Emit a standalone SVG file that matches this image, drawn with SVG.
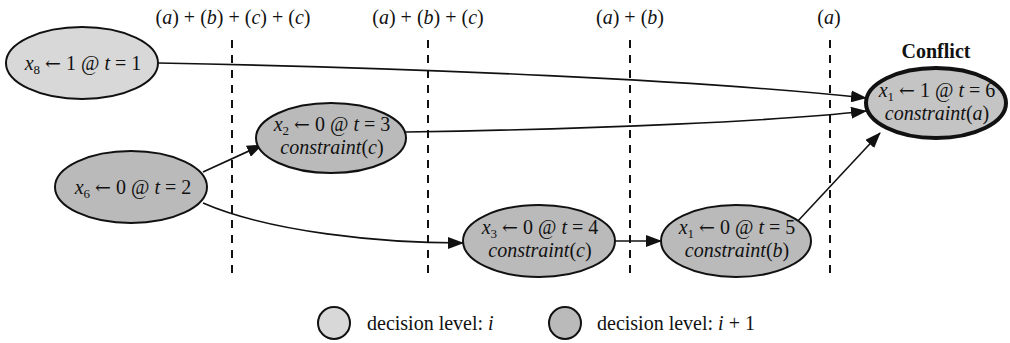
<svg xmlns="http://www.w3.org/2000/svg" width="1010" height="343" viewBox="0 0 1010 343">
<defs>
<style>
text{font-family:"Liberation Serif","Times New Roman",serif;font-size:20px;fill:#111;}
.i{font-style:italic;}
.sub{font-size:13px;}
.ar{font-family:"DejaVu Serif",serif;font-size:19px;}
.light{fill:#d8d8d8;stroke:#111;stroke-width:2;}
.dark{fill:#bababa;stroke:#111;stroke-width:2;}
.conf{fill:#c4c4c4;stroke:#111;stroke-width:4;}
.dash{stroke:#111;stroke-width:2;stroke-dasharray:8,7;fill:none;}
.edge{stroke:#111;stroke-width:1.6;fill:none;marker-end:url(#ah);}
</style>
<marker id="ah" markerWidth="16" markerHeight="12" refX="15" refY="6" orient="auto" markerUnits="userSpaceOnUse">
<path d="M0,0 L16,6 L0,12 Z" fill="#111"/>
</marker>
</defs>
<rect width="1010" height="343" fill="#ffffff"/>

<g id="cuts">
<line class="dash" x1="232" y1="40" x2="232" y2="274"/>
<line class="dash" x1="428" y1="40" x2="428" y2="274"/>
<line class="dash" x1="630" y1="40" x2="630" y2="274"/>
<line class="dash" x1="830" y1="40" x2="830" y2="274"/>
<text x="233" y="24" text-anchor="middle">(<tspan class="i">a</tspan>) + (<tspan class="i">b</tspan>) + (<tspan class="i">c</tspan>) + (<tspan class="i">c</tspan>)</text>
<text x="428" y="24" text-anchor="middle">(<tspan class="i">a</tspan>) + (<tspan class="i">b</tspan>) + (<tspan class="i">c</tspan>)</text>
<text x="630" y="24" text-anchor="middle">(<tspan class="i">a</tspan>) + (<tspan class="i">b</tspan>)</text>
<text x="829" y="24" text-anchor="middle">(<tspan class="i">a</tspan>)</text>
</g>

<g id="connectors">
<path class="edge" d="M158,63 C420,68 700,80 866,98"/>
<path class="edge" d="M406,132 C600,129 780,121 866,111"/>
<path class="edge" d="M203,172 L262,145"/>
<path class="edge" d="M203,203 C270,232 380,243 463,243"/>
<path class="edge" d="M615,241 L661,241"/>
<path class="edge" d="M797,222 L880,133"/>
</g>

<g id="n_x8">
<ellipse class="light" cx="82" cy="63" rx="76" ry="36"/>
<text x="83" y="70" text-anchor="middle"><tspan class="i">x</tspan><tspan class="sub" dy="4">8</tspan><tspan dy="-4"> </tspan><tspan class="ar">←</tspan> 1 @ <tspan class="i">t</tspan> = 1</text>
</g>

<g id="n_x6">
<ellipse class="dark" cx="131" cy="187" rx="76" ry="36"/>
<text x="133" y="194" text-anchor="middle"><tspan class="i">x</tspan><tspan class="sub" dy="4">6</tspan><tspan dy="-4"> </tspan><tspan class="ar">←</tspan> 0 @ <tspan class="i">t</tspan> = 2</text>
</g>

<g id="n_x2">
<ellipse class="dark" cx="331" cy="138" rx="75" ry="35"/>
<text x="332" y="131" text-anchor="middle"><tspan class="i">x</tspan><tspan class="sub" dy="4">2</tspan><tspan dy="-4"> </tspan><tspan class="ar">←</tspan> 0 @ <tspan class="i">t</tspan> = 3</text>
<text x="332" y="154" text-anchor="middle"><tspan class="i">constraint</tspan>(<tspan class="i">c</tspan>)</text>
</g>

<g id="n_x3">
<ellipse class="dark" cx="539" cy="241" rx="76" ry="36"/>
<text x="540" y="234" text-anchor="middle"><tspan class="i">x</tspan><tspan class="sub" dy="4">3</tspan><tspan dy="-4"> </tspan><tspan class="ar">←</tspan> 0 @ <tspan class="i">t</tspan> = 4</text>
<text x="540" y="257" text-anchor="middle"><tspan class="i">constraint</tspan>(<tspan class="i">c</tspan>)</text>
</g>

<g id="n_x1t5">
<ellipse class="dark" cx="736" cy="241" rx="75" ry="36"/>
<text x="737" y="234" text-anchor="middle"><tspan class="i">x</tspan><tspan class="sub" dy="4">1</tspan><tspan dy="-4"> </tspan><tspan class="ar">←</tspan> 0 @ <tspan class="i">t</tspan> = 5</text>
<text x="737" y="257" text-anchor="middle"><tspan class="i">constraint</tspan>(<tspan class="i">b</tspan>)</text>
</g>

<g id="n_conflict">
<text x="936" y="58" text-anchor="middle" font-weight="bold">Conflict</text>
<ellipse class="conf" cx="936" cy="103" rx="70" ry="35"/>
<text x="937" y="97" text-anchor="middle"><tspan class="i">x</tspan><tspan class="sub" dy="4">1</tspan><tspan dy="-4"> </tspan><tspan class="ar">←</tspan> 1 @ <tspan class="i">t</tspan> = 6</text>
<text x="937" y="120" text-anchor="middle"><tspan class="i">constraint</tspan>(<tspan class="i">a</tspan>)</text>
</g>

<g id="legend">
<circle class="light" cx="334" cy="323" r="16"/>
<text x="367" y="330">decision level: <tspan class="i">i</tspan></text>
<circle class="dark" cx="565" cy="323" r="16"/>
<text x="597" y="330">decision level: <tspan class="i">i</tspan> + 1</text>
</g>
</svg>
